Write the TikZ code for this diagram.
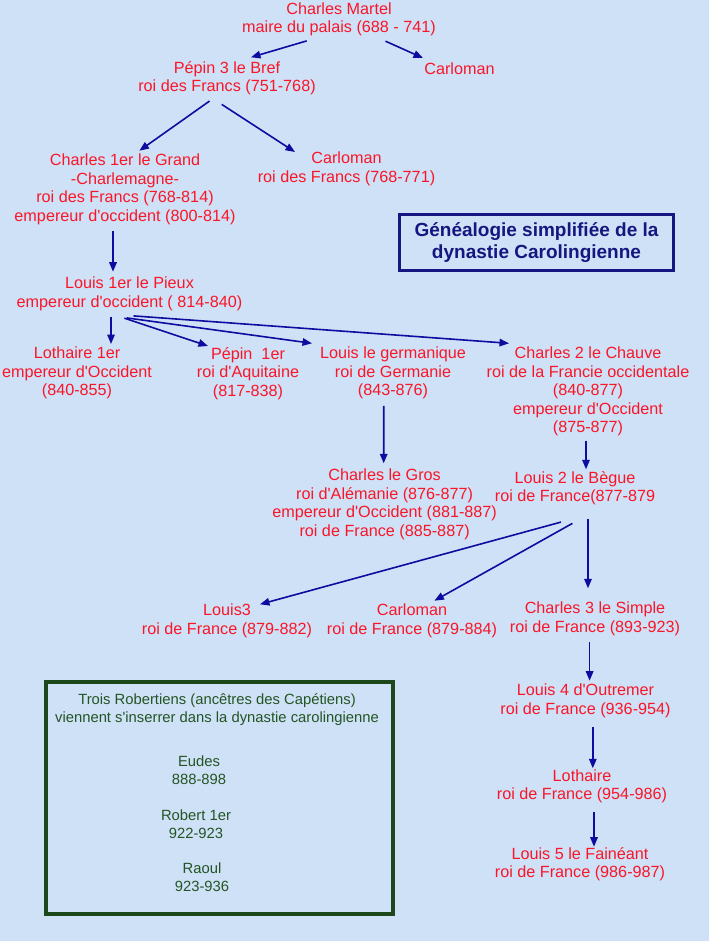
\documentclass[tikz,border=0pt]{standalone}
\usepackage{fontspec}
\setmainfont{Liberation Sans}[Ligatures=TeXOff]
\usetikzlibrary{arrows.meta}
\definecolor{bg}{RGB}{207,225,247}
\definecolor{tred}{RGB}{250,22,40}
\definecolor{arr}{RGB}{12,12,160}
\definecolor{navy}{RGB}{22,22,128}
\definecolor{dgreen}{RGB}{28,72,28}
\definecolor{tgreen}{RGB}{36,84,36}
\begin{document}
\begin{tikzpicture}[x=1pt,y=1pt,
  person/.style={anchor=north, align=center, inner sep=0pt, text=tred,
    font=\fontsize{16.2}{18.5}\selectfont,
    execute at begin node=\strut, execute at end node=\strut},
  rob/.style={anchor=north, align=center, inner sep=0pt, text=tgreen,
    font=\fontsize{14.8}{17.6}\selectfont,
    execute at begin node=\strut, execute at end node=\strut},
  conn/.style={draw=arr, line width=1.6pt, -{Triangle[length=9.5pt,width=7.5pt]}},
  titlebox/.style={draw=navy, line width=3pt, minimum width=274pt, minimum height=55.5pt,
    align=center, text=navy, inner sep=0pt, font=\bfseries\fontsize{19}{22.5}\selectfont},
  greenbox/.style={draw=dgreen, line width=3.5pt, minimum width=347pt, minimum height=232pt, inner sep=0pt}
]
\useasboundingbox (0,0) rectangle (709,-941);
\clip (0,0) rectangle (709,-941);
\fill[bg] (0,0) rectangle (709,-941);

% persons (x = centre, y = first baseline - 12.95)
\node[person] (martel) at (339,-2.55) {Charles Martel\\maire du palais (688 - 741)};
\node[person] (pepin) at (227,-61.05) {Pépin 3 le Bref\\roi des Francs (751-768)};
\node[person] (carlomanA) at (459.5,-61.05) {Carloman};
\node[person] (charlemagne) at (125,-153.75) {Charles 1er le Grand\\-Charlemagne-\\roi des Francs (768-814)\\empereur d'occident (800-814)};
\node[person] (carlomanB) at (346.5,-152.05) {Carloman\\roi des Francs (768-771)};
\node[person] (louis1) at (129.5,-277.05) {Louis 1er le Pieux\\empereur d'occident ( 814-840)};
\node[person] (lothaire1) at (77,-347.05) {Lothaire 1er\\empereur d'Occident\\(840-855)};
\node[person] (pepin1) at (248,-347.05) {Pépin\ \ 1er\\roi d'Aquitaine\\(817-838)};
\node[person] (louisG) at (393,-347.05) {Louis le germanique\\roi de Germanie\\(843-876)};
\node[person] (charles2) at (588,-347.05) {Charles 2 le Chauve\\roi de la Francie occidentale\\(840-877)\\empereur d'Occident\\(875-877)};
\node[person] (gros) at (384.6,-468.75) {Charles le Gros\\roi d'Alémanie (876-877)\\empereur d'Occident (881-887)\\roi de France (885-887)};
\node[person] (louis2) at (575,-471.05) {Louis 2 le Bègue\\roi de France(877-879};
\node[person] (louis3) at (227,-603.75) {Louis3\\roi de France (879-882)};
\node[person] (carlomanC) at (412,-603.75) {Carloman\\roi de France (879-884)};
\node[person] (charles3) at (595,-602.05) {Charles 3 le Simple\\roi de France (893-923)};
\node[person] (louis4) at (585.5,-683.75) {Louis 4 d'Outremer\\roi de France (936-954)};
\node[person] (lothaire) at (582,-769.35) {Lothaire\\roi de France (954-986)};
\node[person] (louis5) at (580,-847.05) {Louis 5 le Fainéant\\roi de France (986-987)};

% title
\node[titlebox] (title) at (536.5,-242.5) {Généalogie simplifiée de la\\dynastie Carolingienne};

% Robertiens box
\node[greenbox] (robbox) at (219.3,-797.9) {};
\node[rob] (robintro) at (217,-693.7) {Trois Robertiens (ancêtres des Capétiens)\\viennent s'inserrer dans la dynastie carolingienne};
\node[rob] (eudes) at (199,-756) {Eudes\\888-898};
\node[rob] (robert) at (196,-809.7) {Robert 1er\\922-923};
\node[rob] (raoul) at (202,-862.7) {Raoul\\923-936};

% connectors
\draw[conn] ([shift={(-32.3,-2.15)}]martel.south) -- ([shift={(24,3.75)}]pepin.north);
\draw[conn] ([shift={(46.5,-2.45)}]martel.south) -- ([shift={(-36.5,3.05)}]carlomanA.north);
\draw[conn] ([shift={(-17.5,-3.65)}]pepin.south) -- ([shift={(14.4,3.05)}]charlemagne.north);
\draw[conn] ([shift={(-5.3,-6.95)}]pepin.south) -- ([shift={(-51.5,0.05)}]carlomanB.north);
\draw[conn] ([shift={(-12,-4.25)}]charlemagne.south) -- ([shift={(-16.5,5.35)}]louis1.north);
\draw[conn] ([shift={(-18.5,-4.25)}]louis1.south) -- ([shift={(34,3.05)}]lothaire1.north);
\draw[conn] ([shift={(-5.1,-4.95)}]louis1.south) -- ([shift={(-40,1.05)}]pepin1.north);
\draw[conn] ([shift={(-2.8,-4.65)}]louis1.south) -- ([shift={(-81,3.75)}]louisG.north);
\draw[conn] ([shift={(4,-2.65)}]louis1.south) -- ([shift={(-79,3.75)}]charles2.north);
\draw[conn] ([shift={(-9.3,-4.15)}]louisG.south) -- ([shift={(-0.9,5.45)}]gros.north);
\draw[conn] ([shift={(-2,-2.15)}]charles2.south) -- ([shift={(11,1.75)}]louis2.north);
\draw[conn] ([shift={(-14,-14.65)}]louis2.south) -- ([shift={(33,-0.55)}]louis3.north);
\draw[conn] ([shift={(-2.6,-15.95)}]louis2.south) -- ([shift={(22.4,3.05)}]carlomanC.north);
\draw[conn] ([shift={(13,-11.25)}]louis2.south) -- ([shift={(-7,13.75)}]charles3.north);
\draw[conn] ([shift={(-5.4,-3.95)}]charles3.south) -- ([shift={(4.1,3.05)}]louis4.north);
\draw[conn] ([shift={(7.3,-7.55)}]louis4.south) -- ([shift={(10.8,1.05)}]lothaire.north);
\draw[conn] ([shift={(12,-6.35)}]lothaire.south) -- ([shift={(14,0.35)}]louis5.north);
\end{tikzpicture}
\end{document}
